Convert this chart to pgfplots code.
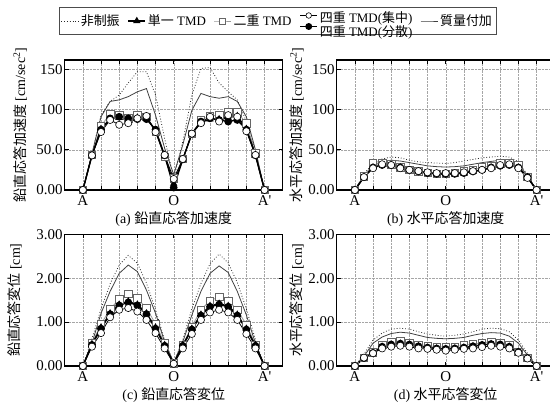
\documentclass[border=0pt]{standalone}
\usepackage{pgfplots}
\usepackage{pgfplotstable}
\pgfplotsset{compat=1.18}
\usepackage{fontspec}
\setmainfont{Liberation Serif}
\newfontfamily\cjk{Noto Sans CJK JP}

% columns: x, non-controlled, single TMD, double TMD, quad (concentrated), quad (distributed), added mass
\pgfplotstableread{
x    nc    single double qc    qd    mass
0    0     0      0      0     0     0
0.5  44    43     44     43    43    45
1    93    76     80     72    75    91
1.5  110   88     94     87    89    110
2    118   90     93     81    91    112
2.5  133   88     89     83    89    116
3    147   90     93     89    88    122
3.5  147   90     91     92    88    126
4    118   74     72     72    75    93
4.5  64    42     41     43.5  43    52
5    14.5  8      14.5   13.7  3     19
5.5  60    38     38.5   38.5  38    56
6    118   70     70     70    70    99
6.5  151   84     87     83    85    120
7    152   88     92     91    89    116
7.5  133   88     93     85    87    114
8    122   90     96.5   93    85    116
8.5  112   92     96.5   91    87    110
9    85    76     83     73    75    91
9.5  48    44     45.6   43.5  43    50
10   0     0      0      0     0     0
}\tabA

\pgfplotstableread{
x    nc    single double qc    qd    mass
0    0     0      0      0     0     0
0.5  20    16     17     16    16    18
1    33    28     33     27    28    30
1.5  38.5  31     34     32    31    35
2    41    31     32     31    31    37
2.5  40    28     28     27    28    36
3    37    25     25     25    25    34
3.5  35    23     23     23.5  23    32
4    34    21     21     22    21    30
4.5  33.5  20     20     21    20    29
5    33    20     20     21    20    28.5
5.5  34    20     21     21    20    29
6    36    21     23     22    21    30
6.5  38    23     25     23.5  23    32
7    40    25     28     25    25    34
7.5  41    28     30     27    28    35.5
8    42    30     33     31    30    37
8.5  41    31     34     32    31    37
9    35    28     31     27    28    32
9.5  19    16     16.5   15    16    18
10   0     0      0      0     0     0
}\tabB

\pgfplotstableread{
x    nc    single double qc    qd    mass
0    0     0      0      0     0     0
0.5  0.62  0.50   0.52   0.44  0.48  0.52
1    1.30  0.88   0.95   0.75  0.85  1.20
1.5  1.87  1.20   1.30   1.11  1.18  1.70
2    2.30  1.40   1.52   1.28  1.38  2.11
2.5  2.52  1.47   1.64   1.32  1.45  2.30
3    2.34  1.40   1.54   1.24  1.38  2.15
3.5  1.89  1.20   1.32   1.05  1.18  1.73
4    1.28  0.88   0.96   0.75  0.85  1.20
4.5  0.59  0.48   0.52   0.40  0.46  0.55
5    0.06  0.06   0.06   0.05  0.05  0.08
5.5  0.60  0.48   0.48   0.40  0.46  0.55
6    1.30  0.85   0.90   0.73  0.83  1.16
6.5  1.88  1.17   1.28   1.05  1.15  1.70
7    2.33  1.37   1.49   1.22  1.35  2.11
7.5  2.55  1.42   1.57   1.28  1.40  2.28
8    2.35  1.37   1.49   1.22  1.35  2.13
8.5  1.90  1.17   1.28   1.05  1.15  1.70
9    1.30  0.85   0.94   0.73  0.83  1.16
9.5  0.60  0.48   0.49   0.40  0.46  0.52
10   0     0      0      0     0     0
}\tabC

\pgfplotstableread{
x    nc    single double qc    qd    mass
0    0     0      0      0     0     0
0.5  0.27  0.18   0.19   0.19  0.18  0.22
1    0.59  0.30   0.31   0.29  0.30  0.52
1.5  0.75  0.44   0.48   0.40  0.44  0.66
2    0.84  0.49   0.54   0.44  0.49  0.74
2.5  0.86  0.51   0.56   0.46  0.51  0.77
3    0.84  0.49   0.53   0.44  0.49  0.75
3.5  0.78  0.45   0.49   0.40  0.45  0.70
4    0.73  0.42   0.46   0.39  0.42  0.65
4.5  0.70  0.40   0.44   0.37  0.40  0.63
5    0.68  0.39   0.43   0.35  0.39  0.62
5.5  0.70  0.40   0.44   0.37  0.40  0.63
6    0.73  0.42   0.47   0.39  0.42  0.65
6.5  0.78  0.45   0.50   0.40  0.45  0.70
7    0.84  0.48   0.53   0.43  0.48  0.74
7.5  0.86  0.50   0.55   0.46  0.50  0.76
8    0.85  0.49   0.53   0.44  0.49  0.75
8.5  0.78  0.44   0.48   0.40  0.44  0.68
9    0.59  0.32   0.33   0.30  0.32  0.52
9.5  0.29  0.18   0.19   0.17  0.18  0.25
10   0     0      0      0     0     0
}\tabD

\pgfplotsset{
  ncline/.style={black!85, dotted, line width=0.8pt},
  massline/.style={black!75, line width=0.8pt},
  singleline/.style={black, line width=1.3pt, mark=triangle*, mark size=3pt},
  doubleline/.style={gray!80, line width=0.8pt, mark=square*, mark size=3.7pt,
    mark options={fill=white, draw=black!60, line width=0.6pt}},
  qcline/.style={black, line width=0.8pt, mark=*, mark size=3.6pt,
    mark options={fill=white, draw=black, line width=0.6pt}},
  qdline/.style={black, line width=1.3pt, mark=*, mark size=3.2pt},
  panel/.style={
    scale only axis, width=218bp,
    xmin=-1, xmax=11, ymin=0,
    xtick={0,...,10}, xticklabels={A,,,,,O,,,,,{A\textquotesingle}},
    grid=major, grid style={densely dotted, gray!70, line width=0.4pt},
    axis line style={line width=1.1pt},
    tick align=inside, major tick length=4bp,
    tick style={black, line width=0.6pt},
    tick label style={font=\fontsize{15}{15}\selectfont},
    xticklabel style={inner sep=1bp, yshift=-4bp},
    yticklabel style={inner sep=1bp, xshift=-1bp},
    label style={font=\fontsize{14}{16}\selectfont},
    xlabel style={at={(axis description cs:0.5,0)}, anchor=center,
      inner sep=0pt, yshift=-29bp},
    clip=false,
  },
  accpanel/.style={panel, height=130bp, ymax=161.5,
    ytick={0,50,100,150}, yticklabels={0.00,50.0,100,150}},
  disppanel/.style={panel, height=131.7bp, ymax=3,
    ytick={0,1,2,3}, yticklabels={0.00,1.00,2.00,3.00}},
}

\newcommand{\allseries}[1]{%
  \addplot[ncline, forget plot] table[x=x, y=nc] {#1};
  \addplot[massline, forget plot] table[x=x, y=mass] {#1};
  \addplot[doubleline, forget plot] table[x=x, y=double] {#1};
  \addplot[singleline, forget plot] table[x=x, y=single] {#1};
  \addplot[qdline, forget plot] table[x=x, y=qd] {#1};
  \addplot[qcline, forget plot] table[x=x, y=qc] {#1};
}

\begin{document}
\begin{tikzpicture}
\path[use as bounding box] (0,0) rectangle (550bp,402bp);

% (a)
\begin{axis}[accpanel, at={(64.7bp,212bp)}, anchor=south west,
  ylabel={{\cjk 鉛直応答加速度} [cm/sec\textsuperscript{2}]},
  ylabel style={at={(axis description cs:-0.205,0.5)}, anchor=center},
  xlabel={(a) {\cjk 鉛直応答加速度}},
  legend style={at={(axis description cs:0.976,1.3)}, anchor=center,
    draw=black!70, line width=0.6pt, fill=white,
    font=\fontsize{13}{12}\selectfont, legend columns=5,
    /tikz/every even column/.append style={column sep=6bp},
    inner sep=2bp},
  legend cell align=left,
]
\allseries{\tabA}
\addlegendimage{ncline}
\addlegendentry{{\cjk 非制振}}
\addlegendimage{singleline}
\addlegendentry{{\cjk 単一} TMD}
\addlegendimage{doubleline, mark size=3pt}
\addlegendentry{{\cjk 二重} TMD}
\addlegendimage{legend image code/.code={
  \draw[black, line width=0.8pt, mark=*, mark size=2.8pt,
    mark options={fill=white, draw=black, line width=0.6pt},
    mark repeat=2, mark phase=2]
    plot coordinates {(0cm,5.5bp) (0.3cm,5.5bp) (0.6cm,5.5bp)};
  \draw[black, line width=1.3pt, mark=*, mark size=2.8pt,
    mark repeat=2, mark phase=2]
    plot coordinates {(0cm,-5.5bp) (0.3cm,-5.5bp) (0.6cm,-5.5bp)};
}}
\addlegendentry{\renewcommand{\arraystretch}{0.9}\begin{tabular}{@{}l@{}}{\cjk 四重} TMD({\cjk 集中})\\{\cjk 四重} TMD({\cjk 分散})\end{tabular}}
\addlegendimage{massline}
\addlegendentry{{\cjk 質量付加}}
\end{axis}

% (b)
\begin{axis}[accpanel, at={(336.7bp,212bp)}, anchor=south west,
  ylabel={{\cjk 水平応答加速度} [cm/sec\textsuperscript{2}]},
  ylabel style={at={(axis description cs:-0.183,0.5)}, anchor=center},
  xlabel={(b) {\cjk 水平応答加速度}},
]
\allseries{\tabB}
\end{axis}

% (c)
\begin{axis}[disppanel, at={(64.7bp,36bp)}, anchor=south west,
  ylabel={{\cjk 鉛直応答変位} [cm]},
  ylabel style={at={(axis description cs:-0.229,0.5)}, anchor=center},
  xlabel={(c) {\cjk 鉛直応答変位}},
]
\allseries{\tabC}
\end{axis}

% (d)
\begin{axis}[disppanel, at={(336.7bp,36bp)}, anchor=south west,
  ylabel={{\cjk 水平応答変位} [cm]},
  ylabel style={at={(axis description cs:-0.183,0.5)}, anchor=center},
  xlabel={(d) {\cjk 水平応答変位}},
]
\allseries{\tabD}
\end{axis}
\end{tikzpicture}
\end{document}
